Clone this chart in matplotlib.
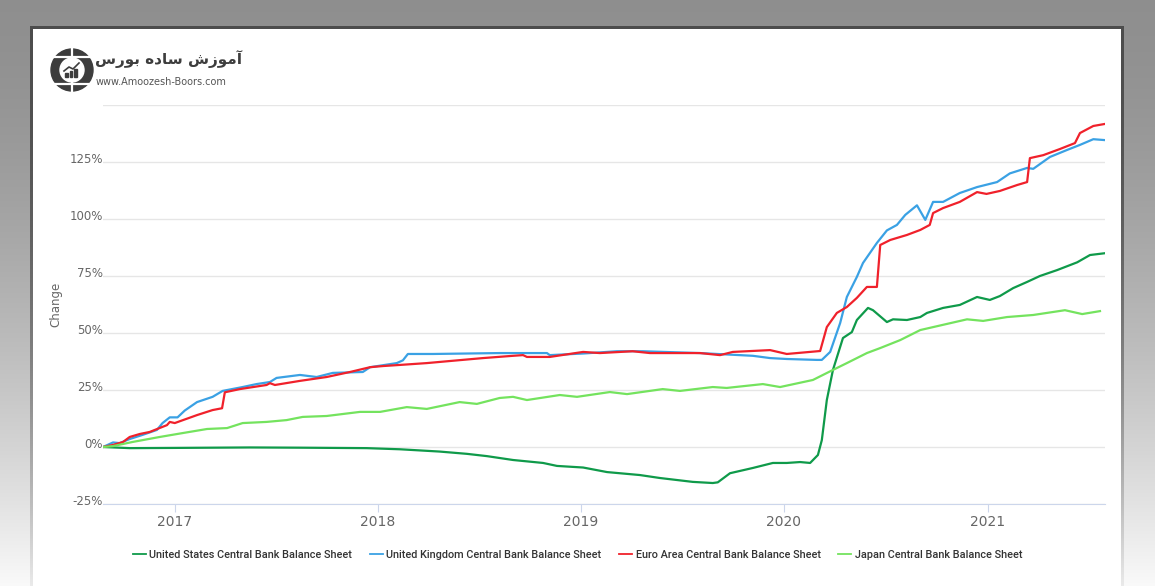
"""Central bank balance sheets: change since Aug 2016 (recreated chart)."""
import numpy as np
import pandas as pd
import matplotlib
matplotlib.use("Agg")
import matplotlib.pyplot as plt
import matplotlib.dates as mdates
from matplotlib.patches import Circle, Rectangle
from matplotlib.transforms import ScaledTranslation

# ---- data (% change) ----
us_dates = ["2016-08-25", "2016-10-12", "2017-01-01", "2017-05-16", "2017-08-14",
            "2017-12-12", "2018-02-10", "2018-04-22", "2018-06-10", "2018-07-16",
            "2018-09-01", "2018-10-25", "2018-11-19", "2019-01-05", "2019-02-17",
            "2019-04-17", "2019-05-23", "2019-07-21", "2019-08-26", "2019-09-04",
            "2019-09-26", "2019-11-06", "2019-12-12", "2020-01-06", "2020-01-30",
            "2020-02-17", "2020-03-02", "2020-03-09", "2020-03-18", "2020-03-29",
            "2020-04-16", "2020-05-02", "2020-05-11", "2020-05-31", "2020-06-09",
            "2020-07-04", "2020-07-15", "2020-08-09", "2020-09-02", "2020-09-14",
            "2020-10-13", "2020-11-12", "2020-12-13", "2021-01-05", "2021-01-23",
            "2021-02-16", "2021-03-13", "2021-04-05", "2021-05-06", "2021-06-11",
            "2021-07-04", "2021-07-31"]
us_vals = [0.0, -0.5, -0.4, -0.2, -0.3,
           -0.5, -1.0, -2.0, -3.0, -4.0,
           -5.7, -7.0, -8.3, -9.0, -11.0,
           -12.3, -13.6, -15.3, -15.8, -15.5,
           -11.5, -9.2, -7.0, -7.0, -6.6,
           -7.0, -3.5, 3.0, 20.6, 33.8,
           47.8, 50.4, 55.7, 61.0, 60.0,
           54.8, 56.0, 55.7, 57.0, 58.8,
           61.0, 62.3, 65.8, 64.5, 66.2,
           69.7, 72.4, 75.0, 77.6, 81.0,
           84.2, 85.0]

uk_dates = ["2016-08-25", "2016-09-12", "2016-09-24", "2016-10-12", "2016-11-04",
            "2016-11-30", "2016-12-10", "2016-12-23", "2017-01-06", "2017-01-19",
            "2017-02-10", "2017-03-10", "2017-03-28", "2017-05-03", "2017-05-28",
            "2017-06-21", "2017-07-03", "2017-08-14", "2017-09-13", "2017-10-12",
            "2017-12-05", "2017-12-18", "2018-02-04", "2018-02-15", "2018-02-24",
            "2018-04-10", "2018-08-08", "2018-11-01", "2018-11-06", "2019-01-05",
            "2019-03-07", "2019-04-22", "2019-08-03", "2019-09-03", "2019-11-06",
            "2019-12-07", "2020-01-06", "2020-02-29", "2020-03-09", "2020-03-24",
            "2020-04-11", "2020-04-23", "2020-05-11", "2020-05-22", "2020-06-16",
            "2020-07-04", "2020-07-22", "2020-08-06", "2020-08-27", "2020-09-11",
            "2020-09-25", "2020-10-13", "2020-11-12", "2020-12-13", "2021-01-18",
            "2021-02-10", "2021-03-13", "2021-03-24", "2021-04-23", "2021-05-24",
            "2021-06-16", "2021-07-10", "2021-07-31"]
uk_vals = [0.0, 2.0, 1.7, 3.5, 5.3,
           7.5, 10.5, 13.0, 13.0, 16.0,
           19.7, 22.0, 24.6, 26.3, 27.6,
           28.5, 30.3, 31.6, 30.7, 32.5,
           32.9, 35.0, 36.8, 38.0, 40.8,
           40.8, 41.2, 41.2, 40.3, 41.0,
           42.0, 42.0, 41.2, 40.8, 40.0,
           39.0, 38.6, 38.2, 38.2, 41.7,
           54.4, 65.8, 74.6, 80.7, 89.5,
           95.0, 97.4, 101.8, 106.0, 99.6,
           107.5, 107.5, 111.4, 114.0, 116.2,
           120.0, 122.4, 122.0, 127.2, 130.3,
           132.5, 135.0, 134.6]

ea_dates = ["2016-08-25", "2016-09-12", "2016-09-30", "2016-10-12", "2016-10-30",
            "2016-11-17", "2016-12-18", "2016-12-23", "2017-01-01", "2017-02-10",
            "2017-03-10", "2017-03-27", "2017-04-01", "2017-04-28", "2017-06-15",
            "2017-06-21", "2017-06-30", "2017-08-14", "2017-10-01", "2017-11-12",
            "2017-12-18", "2018-01-10", "2018-02-10", "2018-03-30", "2018-05-10",
            "2018-07-09", "2018-09-01", "2018-09-19", "2018-09-26", "2018-11-06",
            "2019-01-05", "2019-02-04", "2019-04-04", "2019-05-05", "2019-08-03",
            "2019-09-08", "2019-10-01", "2019-12-07", "2020-01-06", "2020-03-06",
            "2020-03-18", "2020-04-05", "2020-04-23", "2020-05-11", "2020-05-29",
            "2020-06-16", "2020-06-22", "2020-07-10", "2020-08-09", "2020-09-02",
            "2020-09-19", "2020-09-25", "2020-10-13", "2020-11-12", "2020-12-13",
            "2020-12-30", "2021-01-23", "2021-02-23", "2021-03-13", "2021-03-18",
            "2021-04-11", "2021-05-11", "2021-06-07", "2021-06-16", "2021-07-10",
            "2021-07-31"]
ea_vals = [0.0, 0.9, 2.2, 4.4, 5.7,
           6.6, 9.6, 11.0, 10.5, 14.0,
           16.2, 17.0, 24.0, 25.4, 27.2,
           28.0, 27.2, 29.0, 30.7, 32.9,
           35.0, 35.5, 36.0, 36.8, 37.7,
           39.0, 40.0, 40.3, 39.5, 39.5,
           41.7, 41.2, 42.0, 41.2, 41.2,
           40.3, 41.7, 42.5, 40.8, 42.1,
           52.6, 58.8, 61.4, 65.4, 70.2,
           70.2, 88.6, 90.8, 93.0, 95.2,
           97.4, 102.6, 104.8, 107.5, 111.8,
           111.0, 112.3, 114.9, 116.2, 126.7,
           128.0, 130.7, 133.3, 137.7, 140.8,
           141.7]

jp_dates = ["2016-08-25", "2016-09-12", "2016-10-17", "2016-12-05", "2017-01-15",
            "2017-02-28", "2017-04-05", "2017-05-03", "2017-06-15", "2017-07-21",
            "2017-08-19", "2017-10-01", "2017-11-30", "2018-01-05", "2018-02-22",
            "2018-03-30", "2018-05-28", "2018-06-28", "2018-08-08", "2018-09-01",
            "2018-09-26", "2018-11-24", "2018-12-25", "2019-02-22", "2019-03-25",
            "2019-05-28", "2019-06-28", "2019-08-26", "2019-09-20", "2019-11-24",
            "2019-12-25", "2020-02-22", "2020-03-29", "2020-04-23", "2020-05-29",
            "2020-06-22", "2020-07-28", "2020-09-02", "2020-11-25", "2020-12-24",
            "2021-02-05", "2021-03-24", "2021-05-20", "2021-06-20", "2021-07-22"]
jp_vals = [0.0, 0.4, 2.2, 4.4, 6.1,
           7.9, 8.3, 10.5, 11.0, 11.8,
           13.2, 13.6, 15.4, 15.4, 17.5,
           16.7, 19.7, 18.9, 21.5, 22.0,
           20.6, 22.8, 22.0, 24.1, 23.2,
           25.4, 24.6, 26.3, 25.9, 27.6,
           26.3, 29.4, 33.8, 36.8, 41.2,
           43.4, 46.9, 51.3, 56.0, 55.3,
           57.0, 57.9, 60.0, 58.3, 59.6]

series_names = ["United States Central Bank Balance Sheet",
                "United Kingdom Central Bank Balance Sheet",
                "Euro Area Central Bank Balance Sheet",
                "Japan Central Bank Balance Sheet"]
series_colors = ["#0f9a4a", "#3aa1e4", "#f0212b", "#74e35e"]

y_ticks = [-25, 0, 25, 50, 75, 100, 125, 150]

# logo texts: Persian name in presentation forms, laid out left to right
logo_name = "\uFEB1\uFEAD\uFEEE\uFE91 \uFEE9\uFEA9\uFE8E\uFEB3 \uFEB5\uFEAF\uFEEE\uFEE3\uFE81"
logo_url = "www.Amoozesh-Boors.com"

W, H = 1155, 586
fig = plt.figure(figsize=(W / 100, H / 100), dpi=100)

# ---- grey frame + white card background ----
rows = np.arange(H)[:, None] / H
outer = 0.56 + 0.42 * rows ** 1.6
border = 0.30 + 0.62 * rows ** 2.2
bg = np.repeat(outer, W, axis=1)
bg[26:, 30:1124] = np.repeat(border[26:], 1094, axis=1)
bg[29:, 33:1121] = 1.0
bg_ax = fig.add_axes([0, 0, 1, 1], zorder=0)
bg_ax.imshow(np.dstack([bg] * 3), aspect="auto", extent=(0, W, H, 0), interpolation="nearest")
bg_ax.set_xlim(0, W)
bg_ax.set_ylim(H, 0)
bg_ax.axis("off")

# ---- logo ----
gx, gy, r = 72, 70, 21
dark = "#3d3d3d"
bg_ax.add_patch(Circle((gx, gy), r, color=dark, zorder=2))
bg_ax.add_patch(Circle((gx, gy), 12, color="white", zorder=3))
for dy in (-13.5, 13.5):
    bg_ax.plot([gx - r, gx + r], [gy + dy, gy + dy], color="white", lw=1.6, zorder=3)
bg_ax.plot([gx, gx], [gy - r, gy + r], color="white", lw=1.6, zorder=3)
for i, h in enumerate([4, 6, 8]):
    bg_ax.add_patch(Rectangle((gx - 7 + i * 4.5, gy + 7 - h), 2.8, h, color=dark, zorder=4))
bg_ax.plot([gx - 8, gx - 3, gx + 1, gx + 7], [gy + 1, gy - 3, gy - 1, gy - 7],
           color=dark, lw=1.2, zorder=4)
bg_ax.text(95, 59, logo_name, family="DejaVu Sans", fontweight="bold", fontsize=11,
           color=dark, ha="left", va="center", zorder=4)
bg_ax.text(96, 82, logo_url, family="DejaVu Sans", fontsize=7, color="#555555",
           ha="left", va="center", zorder=4)

# ---- chart ----
ax = fig.add_axes([103 / W, 1 - 504 / H, (1105 - 103) / W, (504 - 105) / H], zorder=1)
ax.patch.set_alpha(0)

all_dates = [us_dates, uk_dates, ea_dates, jp_dates]
all_vals = [us_vals, uk_vals, ea_vals, jp_vals]
for d, v, name, c in zip(all_dates, all_vals, series_names, series_colors):
    ax.plot(pd.to_datetime(d), v, color=c, lw=1.6, label=name, solid_joinstyle="round")

ax.set_xlim(pd.Timestamp("2016-08-25"), pd.Timestamp("2021-07-31"))
ax.set_ylim(-25, 150)
ax.set_yticks(y_ticks)
ax.set_yticklabels([f"{t}%" if t < 150 else "" for t in y_ticks])
ax.grid(axis="y", color="#e6e6e6", lw=1)
ax.set_axisbelow(True)
for s in ("top", "right", "left"):
    ax.spines[s].set_visible(False)
ax.spines["bottom"].set_color("#ccd6eb")
ax.xaxis.set_major_locator(mdates.YearLocator())
ax.xaxis.set_major_formatter(mdates.DateFormatter("%Y"))
ax.tick_params(axis="x", length=6, color="#ccd6eb", pad=2, labelsize=10, labelcolor="#666666")
ax.tick_params(axis="y", length=0, pad=0, labelsize=8.5, labelcolor="#666666")
shift = ScaledTranslation(0, 4 / 100, fig.dpi_scale_trans)
for lab in ax.get_yticklabels():
    lab.set_transform(lab.get_transform() + shift)
ax.set_ylabel("Change", color="#666666", fontsize=8.5)
ax.yaxis.set_label_coords(-0.041, 0.5)

fig.legend(loc="center", bbox_to_anchor=(0.5, 1 - 555 / H), ncol=4, frameon=False,
           handlelength=1.2, handletextpad=0.35, columnspacing=1.6,
           prop={"family": "Roboto", "weight": "medium", "size": 7.8})
for t in fig.legends[0].get_texts():
    t.set_color("#333333")
for ln in fig.legends[0].get_lines():
    ln.set_linewidth(1.3)

fig.savefig("out.png", dpi=100)
